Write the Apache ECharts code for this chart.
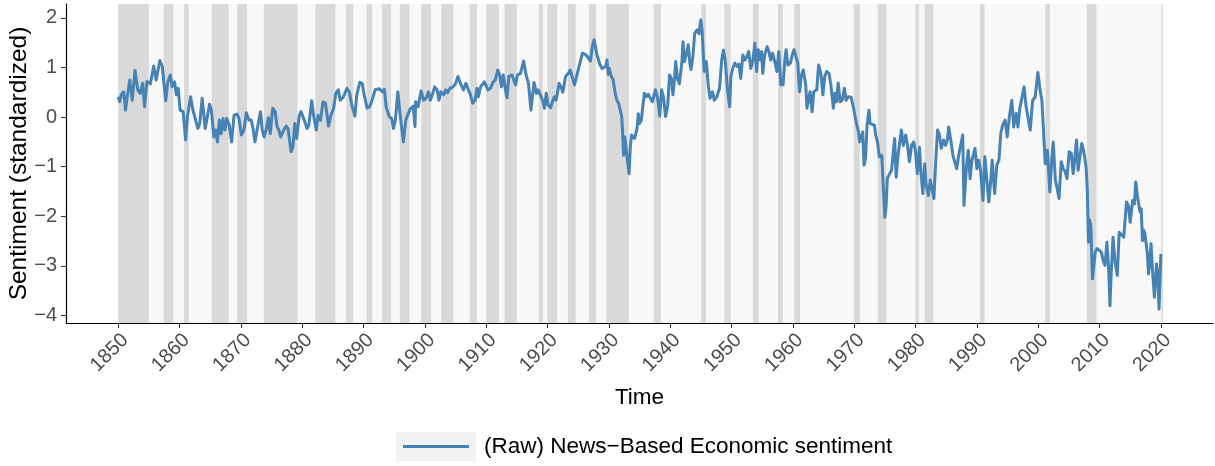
<!DOCTYPE html>
<html>
<head>
<meta charset="utf-8">
<script src="https://cdn.jsdelivr.net/npm/echarts@6/dist/echarts.min.js"></script>
<style>
  html, body { margin: 0; padding: 0; background: #fff; }
  #chart { width: 1215px; height: 466px; }
</style>
</head>
<body>
<div id="chart"></div>
<script>
// time (decimal years) and sentiment values
var times = [
  1850.0, 1850.26, 1850.5, 1850.9, 1851.2, 1851.45, 1851.9, 1852.3, 1852.75, 1853.2,
  1853.6, 1854.0, 1854.3, 1854.7, 1855.25, 1855.8, 1856.2, 1856.8, 1857.2, 1857.75,
  1858.1, 1858.5, 1858.8, 1859.2, 1859.5, 1859.8, 1860.1, 1860.6, 1861.0, 1861.3,
  1861.8, 1862.2, 1862.5, 1863.0, 1863.3, 1863.7, 1864.2, 1864.5, 1864.9, 1865.2,
  1865.6, 1865.9, 1866.2, 1866.5, 1866.8, 1867.1, 1867.4, 1867.7, 1868.1, 1868.5,
  1868.9, 1869.4, 1869.7, 1870.1, 1870.5, 1870.9, 1871.3, 1871.7, 1872.0, 1872.3,
  1872.7, 1873.2, 1873.5, 1873.8, 1874.2, 1874.5, 1874.8, 1875.2, 1875.6, 1875.9,
  1876.2, 1876.5, 1877.0, 1877.4, 1877.7, 1878.2, 1878.5, 1878.8, 1879.1, 1879.5,
  1879.8, 1880.25, 1880.8, 1881.1, 1881.55, 1881.9, 1882.3, 1882.6, 1883.0, 1883.4,
  1883.8, 1884.3, 1884.7, 1885.1, 1885.5, 1885.9, 1886.2, 1886.7, 1887.0, 1887.3,
  1887.7, 1888.1, 1888.6, 1888.9, 1889.4, 1889.8, 1890.1, 1890.6, 1891.0, 1891.4,
  1891.9, 1892.2, 1892.6, 1893.1, 1893.4, 1893.7, 1894.2, 1894.6, 1894.9, 1895.2,
  1895.6, 1895.9, 1896.2, 1896.5, 1896.9, 1897.2, 1897.6, 1898.1, 1898.4, 1898.5,
  1898.9, 1899.4, 1899.8, 1900.2, 1900.6, 1900.9, 1901.3, 1901.6, 1902.0, 1902.3,
  1902.6, 1903.1, 1903.4, 1903.7, 1904.1, 1904.6, 1905.0, 1905.4, 1905.9, 1906.3,
  1906.7, 1907.1, 1907.4, 1907.8, 1908.2, 1908.5, 1908.7, 1909.1, 1909.4, 1909.7,
  1910.0, 1910.3, 1910.7, 1911.1, 1911.5, 1911.9, 1912.2, 1912.5, 1912.8, 1913.2,
  1913.4, 1913.7, 1914.2, 1914.5, 1914.8, 1915.1, 1915.6, 1916.1, 1916.5, 1916.9,
  1917.3, 1917.6, 1917.8, 1918.2, 1918.5, 1918.8, 1919.2, 1919.5, 1919.8, 1920.1,
  1920.5, 1920.8, 1921.1, 1921.4, 1921.9, 1922.2, 1922.5, 1922.95, 1923.4, 1923.7,
  1924.0, 1924.4, 1924.8, 1925.2, 1925.7, 1926.1, 1926.5, 1927.0, 1927.3, 1927.6,
  1928.0, 1928.5, 1928.9, 1929.2, 1929.5, 1929.7, 1929.9, 1930.1, 1930.3, 1930.7,
  1931.0, 1931.3, 1931.6, 1932.1, 1932.3, 1932.4, 1932.6, 1932.8, 1933.0, 1933.3,
  1933.5, 1933.7, 1934.0, 1934.2, 1934.6, 1934.8, 1935.0, 1935.3, 1935.5, 1935.8,
  1936.1, 1936.4, 1936.7, 1937.1, 1937.3, 1937.6, 1937.95, 1938.3, 1938.6, 1938.9,
  1939.25, 1939.6, 1939.9, 1940.2, 1940.45, 1940.7, 1940.9, 1941.2, 1941.5, 1941.9,
  1942.1, 1942.3, 1942.6, 1942.95, 1943.2, 1943.4, 1943.7, 1944.0, 1944.4, 1944.7,
  1945.0, 1945.2, 1945.55, 1945.9, 1946.2, 1946.5, 1946.9, 1947.2, 1947.6, 1948.05,
  1948.4, 1948.7, 1949.0, 1949.35, 1949.7, 1949.9, 1950.2, 1950.55, 1950.9, 1951.2,
  1951.5, 1951.85, 1952.2, 1952.5, 1952.8, 1953.15, 1953.5, 1953.8, 1954.1, 1954.35,
  1954.7, 1954.9, 1955.1, 1955.4, 1955.8, 1956.1, 1956.4, 1956.7, 1957.1, 1957.4,
  1957.7, 1958.05, 1958.4, 1958.7, 1958.9, 1959.2, 1959.6, 1959.9, 1960.2, 1960.5,
  1960.8, 1961.1, 1961.4, 1961.7, 1962.1, 1962.3, 1962.6, 1962.8, 1963.15, 1963.4,
  1963.9, 1964.2, 1964.6, 1964.9, 1965.2, 1965.5, 1965.9, 1966.2, 1966.6, 1966.85,
  1967.1, 1967.4, 1967.7, 1968.05, 1968.4, 1968.7, 1969.0, 1969.5, 1969.9, 1970.3,
  1970.7, 1970.9, 1971.2, 1971.4, 1971.6, 1971.85, 1972.1, 1972.4, 1972.6, 1972.9,
  1973.3, 1973.5, 1973.8, 1974.1, 1974.5, 1974.8, 1975.0, 1975.2, 1975.4, 1975.8,
  1976.1, 1976.4, 1976.6, 1976.85, 1977.1, 1977.4, 1977.7, 1978.0, 1978.4, 1978.7,
  1979.0, 1979.35, 1979.7, 1980.0, 1980.3, 1980.65, 1980.9, 1981.2, 1981.5, 1981.7,
  1982.1, 1982.4, 1982.7, 1983.0, 1983.3, 1983.6, 1983.9, 1984.2, 1984.6, 1984.9,
  1985.2, 1985.4, 1985.75, 1986.1, 1986.4, 1986.7, 1987.1, 1987.4, 1987.7, 1987.9,
  1988.3, 1988.6, 1988.9, 1989.2, 1989.7, 1990.0, 1990.3, 1990.6, 1991.0, 1991.3,
  1991.6, 1991.95, 1992.3, 1992.5, 1992.9, 1993.25, 1993.6, 1993.9, 1994.2, 1994.6,
  1994.95, 1995.3, 1995.7, 1996.0, 1996.4, 1996.7, 1997.0, 1997.3, 1997.7, 1998.0,
  1998.3, 1998.7, 1999.1, 1999.5, 1999.95, 2000.3, 2000.6, 2000.8, 2001.15, 2001.5,
  2001.9, 2002.2, 2002.45, 2002.8, 2003.1, 2003.4, 2003.75, 2004.1, 2004.4, 2004.7,
  2005.05, 2005.4, 2005.7, 2006.0, 2006.25, 2006.5, 2006.8, 2007.1, 2007.4, 2007.8,
  2008.0, 2008.2, 2008.4, 2008.6, 2008.85, 2009.1, 2009.3, 2009.6, 2009.9, 2010.3,
  2010.6, 2010.9, 2011.2, 2011.5, 2011.7, 2011.9, 2012.2, 2012.5, 2012.9, 2013.2,
  2013.5, 2013.95, 2014.4, 2014.7, 2015.0, 2015.4, 2015.7, 2015.9, 2016.2, 2016.6,
  2016.8, 2017.0, 2017.2, 2017.4, 2017.8, 2018.0, 2018.2, 2018.4, 2018.6, 2018.95,
  2019.3, 2019.5, 2019.7, 2019.9, 2020.0
];

var sentiment = [
  0.41, 0.31, 0.45, 0.51, 0.14, 0.38, 0.75, 0.34, 0.94, 0.55,
  0.48, 0.68, 0.21, 0.72, 0.67, 1.03, 0.75, 1.14, 1.02, 0.33,
  0.71, 0.85, 0.61, 0.71, 0.45, 0.58, 0.14, 0.11, -0.46, 0.01,
  0.41, 0.14, 0.18, -0.23, -0.13, 0.38, -0.23, -0.23, 0.26, 0.14,
  -0.40, -0.26, -0.50, -0.06, -0.33, -0.03, -0.26, -0.03, -0.16, -0.50,
  0.04, 0.06, -0.03, -0.36, -0.26, 0.09, -0.06, -0.06, -0.23, -0.50,
  -0.23, 0.11, -0.26, -0.40, -0.23, -0.01, -0.33, 0.18, 0.11, -0.19,
  -0.26, -0.40, -0.26, -0.18, -0.23, -0.70, -0.60, -0.13, -0.43, 0.01,
  0.11, -0.03, -0.23, -0.16, 0.33, 0.01, -0.26, 0.04, -0.06, 0.31,
  0.28, -0.18, 0.04, 0.16, 0.48, 0.55, 0.34, 0.40, 0.36, 0.58,
  0.51, 0.24, 0.02, 0.45, 0.70, 0.68, 0.45, 0.18, 0.21, 0.34,
  0.55, 0.51, 0.57, 0.51, 0.56, 0.20, 0.01, -0.03, -0.23, -0.06,
  0.51, 0.14, -0.19, -0.50, -0.06, 0.04, 0.16, 0.22, -0.19, 0.31,
  0.21, 0.53, 0.34, 0.38, 0.51, 0.34, 0.48, 0.61, 0.55, 0.34,
  0.51, 0.45, 0.55, 0.49, 0.58, 0.61, 0.67, 0.82, 0.65, 0.55,
  0.68, 0.55, 0.47, 0.28, 0.34, 0.58, 0.41, 0.61, 0.65, 0.71,
  0.70, 0.55, 0.58, 0.70, 0.75, 0.95, 0.85, 0.61, 0.85, 0.51,
  0.39, 0.82, 0.85, 0.82, 0.65, 0.85, 0.88, 1.13, 0.85, 0.68,
  0.14, 0.18, 0.70, 0.48, 0.55, 0.51, 0.34, 0.18, 0.48, 0.24,
  0.19, 0.31, 0.41, 0.34, 0.68, 0.61, 0.50, 0.82, 0.88, 0.95,
  0.82, 0.65, 0.85, 1.05, 1.29, 1.27, 1.22, 1.13, 1.42, 1.56,
  1.29, 1.07, 0.98, 0.95, 1.02, 1.15, 0.86, 0.98, 0.85, 0.75,
  0.51, 0.34, 0.28, 0.01, -0.43, -0.77, -0.40, -0.43, -0.84, -1.14,
  -0.60, -0.36, -0.33, -0.43, -0.23, 0.07, -0.13, -0.06, 0.17, 0.48,
  0.41, 0.46, 0.48, 0.31, 0.28, 0.55, 0.38, 0.02, 0.55, 0.41,
  0.01, 0.24, 0.85, 0.78, 0.45, 0.75, 1.12, 0.78, 0.67, 1.09,
  1.52, 1.12, 1.25, 1.46, 1.09, 0.96, 1.22, 1.69, 1.76, 1.68,
  1.96, 1.76, 0.92, 1.12, 0.65, 0.38, 0.51, 0.34, 0.41, 0.58,
  1.15, 1.35, 1.12, 0.55, 0.21, 0.82, 0.98, 1.09, 1.02, 1.07,
  0.78, 1.25, 1.15, 1.22, 1.32, 0.98, 1.15, 1.49, 0.92, 1.36,
  1.15, 1.32, 0.88, 1.25, 1.42, 1.32, 1.15, 1.29, 1.09, 0.92,
  1.32, 0.65, 0.65, 1.15, 1.36, 1.05, 1.09, 1.25, 1.36, 1.39,
  1.09, 0.51, 0.85, 0.95, 0.65, 0.18, 0.14, 0.51, 0.11, 0.51,
  0.55, 1.05, 0.85, 0.45, 0.82, 0.92, 0.88, 0.65, 0.18, 0.48,
  0.31, 0.69, 0.31, 0.34, 0.58, 0.34, 0.41, 0.40, 0.18, -0.09,
  -0.30, -0.50, -0.46, -0.30, -0.97, -0.83, -0.16, 0.14, -0.13, -0.09,
  -0.16, -0.36, -0.50, -0.80, -0.77, -1.54, -2.02, -1.81, -1.24, -1.14,
  -1.07, -0.67, -0.43, -1.21, -0.83, -0.53, -0.26, -0.57, -0.36, -0.57,
  -0.90, -0.57, -0.50, -0.70, -1.14, -0.61, -1.14, -1.54, -0.94, -1.34,
  -1.58, -1.27, -1.24, -1.64, -0.87, -0.26, -0.36, -0.63, -0.46, -0.57,
  -0.46, -0.20, -0.46, -0.77, -0.77, -1.04, -0.73, -0.77, -0.36, -1.78,
  -1.00, -0.67, -1.24, -0.87, -0.63, -1.04, -0.87, -1.07, -1.68, -0.80,
  -0.80, -1.71, -1.24, -0.87, -1.54, -0.97, -0.87, -0.33, -0.16, -0.06,
  -0.40, 0.01, 0.34, -0.20, 0.08, -0.20, 0.18, 0.14, 0.61, 0.24,
  0.21, -0.26, 0.34, 0.40, 0.90, 0.55, 0.34, 0.31, -0.94, -0.67,
  -1.51, -0.87, -0.50, -1.27, -1.44, -1.64, -0.90, -1.04, -1.10, -1.24,
  -0.70, -0.73, -1.14, -0.80, -0.46, -1.07, -0.80, -0.53, -0.67, -1.00,
  -1.44, -2.52, -2.08, -2.22, -3.26, -3.30, -2.72, -2.65, -2.65, -2.72,
  -2.89, -2.99, -2.52, -3.09, -3.80, -3.16, -2.42, -2.89, -3.19, -2.32,
  -2.28, -2.42, -1.71, -1.78, -2.12, -1.68, -1.75, -1.31, -1.61, -1.91,
  -1.85, -2.49, -2.28, -2.35, -2.76, -3.16, -2.89, -2.55, -3.02, -3.63,
  -2.96, -3.16, -3.87, -3.16, -2.76
];

// recession periods (NBER peaks and troughs, decimal years)
var recessionStart = [
  1850.0, 1857.42, 1860.75, 1865.25, 1869.42, 1873.75, 1882.17, 1887.17, 1890.5, 1893.0,
  1895.92, 1899.42, 1902.67, 1907.33, 1910.0, 1913.0, 1918.58, 1920.0, 1923.33, 1926.75,
  1929.58, 1937.33, 1945.08, 1948.83, 1953.5, 1957.58, 1960.25, 1969.92, 1973.83, 1980.0,
  1981.5, 1990.5, 2001.17, 2007.92, 2020.08
];
var recessionEnd = [
  1855.0, 1859.0, 1861.5, 1868.0, 1871.0, 1879.25, 1885.42, 1888.33, 1891.42, 1894.5,
  1897.5, 1901.0, 1904.67, 1908.5, 1912.08, 1915.0, 1919.25, 1921.58, 1924.58, 1927.92,
  1933.25, 1938.5, 1945.83, 1949.83, 1954.42, 1958.33, 1961.17, 1970.92, 1975.25, 1980.58,
  1982.92, 1991.25, 2001.92, 2009.5, 2020.33
];

var sampleStart = 1850;
var sampleEnd = 2020;

var yearTicks = [1850, 1860, 1870, 1880, 1890, 1900, 1910, 1920, 1930, 1940,
                 1950, 1960, 1970, 1980, 1990, 2000, 2010, 2020];
var valueTicks = [-4, -3, -2, -1, 0, 1, 2];

var seriesName = '(Raw) News\u2212Based Economic sentiment';

var chart = echarts.init(document.getElementById('chart'), null, { renderer: 'canvas' });

var lineData = times.map(function (t, i) { return [t, sentiment[i]]; });

var recessionAreas = recessionStart.map(function (s, i) {
    return [{ xAxis: s }, { xAxis: recessionEnd[i] }];
});

var font = 'Liberation Sans, Arial, sans-serif';

var option = {
    animation: false,
    backgroundColor: '#ffffff',
    grid: { left: 66, right: 2, top: 4, bottom: 143, containLabel: false, outerBoundsMode: 'none' },
    xAxis: {
        type: 'value',
        min: 1841.5,
        max: 2028.5,
        name: 'Time',
        nameLocation: 'middle',
        nameGap: 63,
        nameTextStyle: { color: '#000', fontSize: 22.5, fontFamily: font },
        splitLine: { show: false },
        axisLine: { show: true, onZero: false, lineStyle: { color: '#000', width: 1.2 } },
        axisTick: { show: true, customValues: yearTicks, length: 5, lineStyle: { color: '#333', width: 1.1 } },
        axisLabel: {
            customValues: yearTicks,
            rotate: 45,
            margin: 7,
            verticalAlign: 'top',
            fontSize: 20,
            color: '#4d4d4d',
            fontFamily: font,
            formatter: function (v) { return String(v); }
        }
    },
    yAxis: {
        type: 'value',
        min: -4.15,
        max: 2.28,
        name: 'Sentiment (standardized)',
        nameLocation: 'middle',
        nameGap: 34,
        nameMoveOverlap: false,
        nameRotate: 90,
        nameTextStyle: { color: '#000', fontSize: 24.5, fontFamily: font },
        splitLine: { show: false },
        axisLine: { show: true, onZero: false, lineStyle: { color: '#000', width: 1.2 } },
        axisTick: { show: true, customValues: valueTicks, length: 5, lineStyle: { color: '#333', width: 1.1 } },
        axisLabel: {
            customValues: valueTicks,
            margin: 9,
            fontSize: 20,
            color: '#4d4d4d',
            fontFamily: font,
            formatter: function (v) { return v < 0 ? '\u2212' + Math.abs(v) : String(v); }
        }
    },
    legend: {
        data: [{ name: seriesName, icon: 'rect' }],
        left: 398,
        top: 428,
        itemWidth: 66,
        itemHeight: 3,
        z: 10,
        textStyle: { color: '#000', fontSize: 22.5, fontFamily: font, lineHeight: 27, padding: [0, 0, 0, 10] }
    },
    graphic: [{
        type: 'rect',
        z: 0,
        shape: { x: 396, y: 432, width: 80, height: 29 },
        style: { fill: '#f2f2f2' }
    }],
    series: [
        {
            // expansion background
            type: 'line',
            name: 'bg',
            data: [],
            silent: true,
            z: 1,
            markArea: {
                silent: true,
                itemStyle: { color: '#f8f8f8' },
                data: [[{ xAxis: sampleStart }, { xAxis: sampleEnd }]]
            }
        },
        {
            // recession shading
            type: 'line',
            name: 'recessions',
            data: [],
            silent: true,
            z: 2,
            markArea: {
                silent: true,
                itemStyle: { color: '#d9d9d9' },
                data: recessionAreas
            }
        },
        {
            type: 'line',
            name: seriesName,
            data: lineData,
            z: 5,
            showSymbol: false,
            symbol: 'none',
            smooth: false,
            color: '#4682b4',
            lineStyle: { color: '#4682b4', width: 3, join: 'round' }
        }
    ]
};

if (option && typeof option === 'object') {
    chart.setOption(option);
}
</script>
</body>
</html>
